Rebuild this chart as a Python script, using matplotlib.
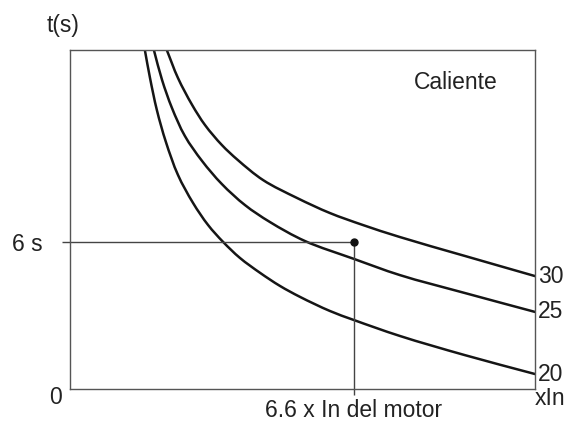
import matplotlib
matplotlib.use("Agg")
import matplotlib.pyplot as plt
import numpy as np
from matplotlib.path import Path
from matplotlib.patches import PathPatch

# Motor overload trip curves, hot state: trip time (s) vs multiples of In
class_20_x = [1.74, 1.86, 2.02, 2.23, 2.51, 2.86, 3.21, 3.56, 3.95, 4.42, 4.88, 5.35, 6.04, 6.60, 7.67, 9.18, 10.81]
class_20_t = [13.81, 12.67, 11.36, 10.06, 8.72, 7.58, 6.68, 5.99, 5.34, 4.73, 4.20, 3.75, 3.18, 2.81, 2.16, 1.38, 0.61]

class_25_x = [1.95, 2.14, 2.37, 2.67, 3.07, 3.53, 4.07, 4.65, 5.46, 6.60, 7.67, 9.18, 10.81]
class_25_t = [13.81, 12.59, 11.45, 10.31, 9.29, 8.35, 7.49, 6.80, 6.03, 5.30, 4.64, 3.91, 3.14]

class_30_x = [2.25, 2.51, 2.84, 3.14, 3.53, 3.90, 4.49, 5.28, 6.04, 6.81, 7.67, 9.18, 10.81]
class_30_t = [13.81, 12.67, 11.57, 10.75, 9.94, 9.33, 8.51, 7.78, 7.17, 6.68, 6.19, 5.42, 4.60]

curve_labels = ["20", "25", "30"]

# Operating point
op_current = 6.6
op_time = 6.0

x_max = 10.81
t_max = 13.81

plt.rcParams["font.family"] = ["Liberation Sans", "DejaVu Sans"]

fig = plt.figure(figsize=(5.69, 4.26), dpi=100)
ax = fig.add_axes([70 / 569, 37 / 426, 465 / 569, 339 / 426])
ax.set_xlim(0, x_max)
ax.set_ylim(0, t_max)

for s in ax.spines.values():
    s.set_color("#555555")
    s.set_linewidth(1.0)


def smooth_path(xs, ys):
    """Centripetal Catmull-Rom curve through the points, as cubic Bezier segments."""
    # work in a roughly isotropic space so the tangents follow the drawn shape
    sx, sy = 465.0 / x_max, 339.0 / t_max
    p = np.column_stack([np.asarray(xs) * sx, np.asarray(ys) * sy])
    ext = np.vstack([2 * p[0] - p[1], p, 2 * p[-1] - p[-2]])
    verts = [p[0]]
    codes = [Path.MOVETO]
    for i in range(1, len(ext) - 2):
        p0, p1, p2, p3 = ext[i - 1], ext[i], ext[i + 1], ext[i + 2]
        d1 = np.linalg.norm(p1 - p0) ** 0.5
        d2 = np.linalg.norm(p2 - p1) ** 0.5
        d3 = np.linalg.norm(p3 - p2) ** 0.5
        m1 = ((p1 - p0) / d1 - (p2 - p0) / (d1 + d2) + (p2 - p1) / d2) * d2
        m2 = ((p2 - p1) / d2 - (p3 - p1) / (d2 + d3) + (p3 - p2) / d3) * d2
        c1 = p1 + m1 / 3.0
        c2 = p2 - m2 / 3.0
        verts += [c1, c2, p2]
        codes += [Path.CURVE4] * 3
    v = np.array(verts)
    v[:, 0] /= sx
    v[:, 1] /= sy
    return Path(v, codes)


curve_color = "#151515"
for xs, ts in [(class_20_x, class_20_t), (class_25_x, class_25_t), (class_30_x, class_30_t)]:
    patch = PathPatch(smooth_path(xs, ts), facecolor="none", edgecolor=curve_color,
                      lw=1.8, capstyle="round", joinstyle="round")
    ax.add_patch(patch)

# End-of-curve labels at the right edge
text_color = "#222222"
fs = 16.5
for lab, ts in zip(curve_labels, [class_20_t, class_25_t, class_30_t]):
    ax.annotate(lab, xy=(x_max, ts[-1]), xytext=(2, 0), textcoords="offset points",
                ha="left", va="center", fontsize=fs, color=text_color, annotation_clip=False)

# Operating point guide lines
ref_color = "#444444"
ax.plot([0, op_current], [op_time, op_time], color=ref_color, lw=1.0)
ax.plot([op_current, op_current], [0, op_time], color=ref_color, lw=1.0)
ax.plot([op_current], [op_time], "o", color="#111111", ms=5)

ax.set_xticks([op_current])
ax.set_yticks([op_time])
ax.set_xticklabels([])
ax.set_yticklabels([])
ax.tick_params(axis="y", direction="out", length=6, width=1.0, color=ref_color)
ax.tick_params(axis="x", direction="out", length=4.5, width=1.0, color=ref_color)

# Axis annotations
ax.text(-27 / 465, op_time, "6 s", transform=ax.get_yaxis_transform(),
        ha="right", va="center_baseline", fontsize=fs, color=text_color)
ax.text(op_current, -28 / 339, "6.6 x In del motor", transform=ax.get_xaxis_transform(),
        ha="center", va="baseline", fontsize=fs, color=text_color)
ax.text(-14 / 465, -15 / 339, "0", transform=ax.transAxes, ha="center", va="baseline",
        fontsize=fs, color=text_color)
ax.text(1.0 + 15 / 465, -16 / 339, "xIn", transform=ax.transAxes, ha="center", va="baseline",
        fontsize=fs, color=text_color)
fig.text(47 / 569, 1 - 32 / 426, "t(s)", ha="left", va="baseline", fontsize=fs, color=text_color)
ax.text((456 - 70) / 465, 1 - 39 / 339, "Caliente", transform=ax.transAxes,
        ha="center", va="baseline", fontsize=fs, color=text_color)

fig.savefig("out.png", dpi=100)
